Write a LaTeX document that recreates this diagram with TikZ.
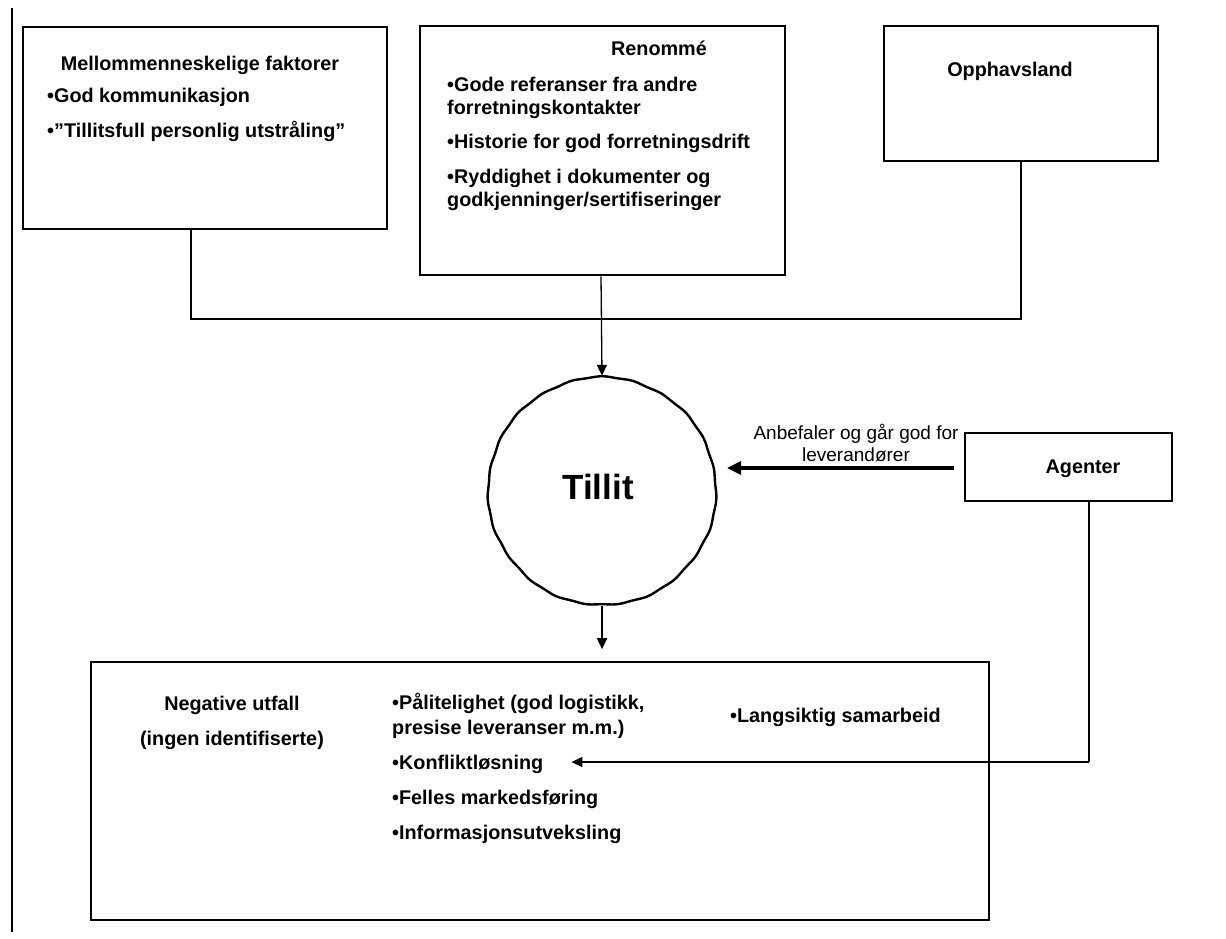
\documentclass[tikz,border=0pt]{standalone}
\usepackage{fontspec}
\setmainfont{Liberation Sans}
\usetikzlibrary{arrows.meta}

\begin{document}
\begin{tikzpicture}[x=1pt,y=-1pt,
  frame/.style={draw, line width=2.8pt, inner sep=0pt},
  txt/.style={font=\bfseries\fontsize{19.8}{23}\selectfont, inner sep=0pt},
  item/.style={txt, anchor=base west},
  head/.style={txt, anchor=base},
  wire/.style={line width=2.2pt},
  thinwire/.style={line width=1.3pt},
  tip/.style={-{Triangle[length=11pt,width=10pt]}},
  bigtip/.style={-{Triangle[length=14pt,width=13pt]}}
]
\useasboundingbox (0,0) rectangle (1226,938);

% margin rule on the left
\coordinate (rt) at (12,8);
\coordinate (rb) at (12,932);
\draw[wire] (rt) -- (rb);

% top row of factor boxes
\node[frame, minimum width=364pt, minimum height=202pt] (mf) at (205,128) {};
\node[head] (mfh) at (200,70) {Mellommenneskelige faktorer};
\node[item] (mf1) at (47,102) {•God kommunikasjon};
\node[item] (mf2) at (47,137) {•”Tillitsfull personlig utstråling”};

\node[frame, minimum width=365pt, minimum height=249pt] (ren) at (602.5,150.5) {};
\node[head] (renh) at (659,55) {Renommé};
\node[item] (ren1) at (447,91) {•Gode referanser fra andre};
\node[item] (ren1b) at (447,114) {forretningskontakter};
\node[item] (ren2) at (447,148) {•Historie for god forretningsdrift};
\node[item] (ren3) at (447,183) {•Ryddighet i dokumenter og};
\node[item] (ren3b) at (447,206) {godkjenninger/sertifiseringer};

\node[frame, minimum width=274pt, minimum height=135pt] (opp) at (1021,93.5) {};
\node[head] (opph) at (1010,76) {Opphavsland};

% central trust node; its outline is a slightly wavy circle
\node[circle, minimum size=230pt, inner sep=0pt] (tillit) at (602,491) {};
\draw[line width=2.4pt] plot[smooth cycle, samples=144, domain=0:357.5]
  ({602+(114+0.45*sin(23*\x)+0.35*sin(7*\x))*cos(\x)},
   {491+(114+0.45*sin(23*\x)+0.35*sin(7*\x))*sin(\x)});
\node[inner sep=0pt, font=\bfseries\fontsize{35}{40}\selectfont] (tillith) at (598,487) {Tillit};

% agents
\node[frame, minimum width=207pt, minimum height=68pt] (age) at (1068.5,467) {};
\node[head] (ageh) at (1083,473) {Agenter};

% outcomes
\node[frame, minimum width=898pt, minimum height=258pt] (bot) at (540,791) {};
\node[head] (neg1) at (232,710) {Negative utfall};
\node[head] (neg2) at (232,745) {(ingen identifiserte)};
\node[item] (o1) at (392,709) {•Pålitelighet (god logistikk,};
\node[item] (o1b) at (392,734) {presise leveranser m.m.)};
\node[item] (o2) at (392,769) {•Konfliktløsning};
\node[item] (o3) at (392,804) {•Felles markedsføring};
\node[item] (o4) at (392,839) {•Informasjonsutveksling};
\node[item] (o5) at (730,722) {•Langsiktig samarbeid};

% connectors
\coordinate (jl) at (191,319);
\draw[wire] ([xshift=-14pt]mf.south) -- (jl) -| (opp.south);
\draw[thinwire, tip] ([xshift=-1.5pt]ren.south) -- (tillit.north);
\draw[line width=1.7pt, tip] (tillit.south) -- ([yshift=-43pt]tillit.south);

\coordinate (at) at (727,468);
\draw[line width=3.2pt, bigtip] (age.west |- at) ++(-10,0) -- (at);
\node[align=center, inner sep=0pt, font=\fontsize{19}{22}\selectfont]
  (lbl) at (856,443) {Anbefaler og går god for\\leverandører};

\coordinate (ac) at (1089,762);
\draw[wire] (age.south -| ac) -- (ac);
\draw[thinwire, tip] (ac) -- ([xshift=28pt]o2.east |- ac);
\end{tikzpicture}
\end{document}
